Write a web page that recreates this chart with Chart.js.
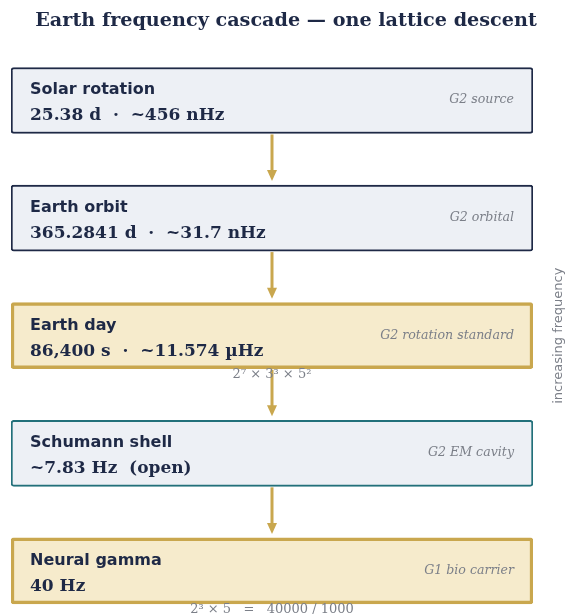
<!DOCTYPE html>
<html>
<head>
<meta charset="utf-8">
<script src="https://cdn.jsdelivr.net/npm/chart.js@4"></script>
<style>
  html, body { margin: 0; padding: 0; background: #ffffff; }
  #wrap { width: 566px; height: 614px; position: relative; }
</style>
</head>
<body>
<div id="wrap"><canvas id="cascade"></canvas></div>
<script>
// cascade steps, top to bottom
const stepNames = ["Solar rotation", "Earth orbit", "Earth day", "Schumann shell", "Neural gamma"];
const stepValues = ["25.38 d  \u00b7  ~456 nHz", "365.2841 d  \u00b7  ~31.7 nHz", "86,400 s  \u00b7  ~11.574 \u00b5Hz", "~7.83 Hz  (open)", "40 Hz"];
const stepRoles = ["G2 source", "G2 orbital", "G2 rotation standard", "G2 EM cavity", "G1 bio carrier"];
const stepKinds = ["plain", "plain", "anchor", "cavity", "anchor"];
const stepNotes = ["", "", "2\u2077 \u00d7 3\u00b3 \u00d7 5\u00b2", "", "2\u00b3 \u00d7 5   =   40000 / 1000"];
const stepIndex = [0, 1, 2, 3, 4];

const NAVY = "#1e2946";
const GOLD = "#c9a74e";
const GREY = "#7b7f88";
const fills = { plain: "#edf0f5", anchor: "#f6ebcc", cavity: "#edf0f5" };
const borders = { plain: NAVY, anchor: GOLD, cavity: "#22707a" };
const borderW = { plain: 2, anchor: 3.5, cavity: 2 };

const boxData = stepIndex.map(i => ({ x: [0, 1], y: i }));

const cascadeText = {
  id: "cascadeText",
  afterDatasetsDraw(chart) {
    const ctx = chart.ctx;
    const xs = chart.scales.x, ys = chart.scales.y;
    const left = xs.getPixelForValue(0), right = xs.getPixelForValue(1);
    const mid = (left + right) / 2;
    const meta = chart.getDatasetMeta(0);
    ctx.save();

    // arrows between boxes
    for (let i = 0; i < stepIndex.length - 1; i++) {
      const a = meta.data[i], b = meta.data[i + 1];
      const y0 = a.y + a.height / 2 + 1;
      const y1 = b.y - b.height / 2 - 4;
      ctx.strokeStyle = GOLD;
      ctx.fillStyle = GOLD;
      ctx.lineWidth = 3;
      ctx.beginPath();
      ctx.moveTo(mid, y0);
      ctx.lineTo(mid, y1 - 9);
      ctx.stroke();
      ctx.beginPath();
      ctx.moveTo(mid - 5, y1 - 11);
      ctx.lineTo(mid + 5, y1 - 11);
      ctx.lineTo(mid, y1);
      ctx.closePath();
      ctx.fill();
    }

    stepIndex.forEach(i => {
      const cy = ys.getPixelForValue(i);
      ctx.textBaseline = "alphabetic";
      ctx.textAlign = "left";
      ctx.fillStyle = NAVY;
      ctx.font = "bold 16px 'DejaVu Sans'";
      ctx.fillText(stepNames[i], left + 19, cy - 6);
      ctx.font = "bold 17px 'DejaVu Serif'";
      ctx.fillText(stepValues[i], left + 19, cy + 20);
      ctx.textAlign = "right";
      ctx.fillStyle = GREY;
      ctx.font = "italic 12.6px 'DejaVu Serif'";
      ctx.fillText(stepRoles[i], right - 19, cy + 3);
      if (stepNotes[i]) {
        const el = meta.data[i];
        ctx.textAlign = "center";
        ctx.font = "13px 'DejaVu Serif'";
        ctx.fillText(stepNotes[i], mid, el.y + el.height / 2 + 9);
      }
    });

    // title
    ctx.textAlign = "center";
    ctx.fillStyle = NAVY;
    ctx.font = "bold 19.2px 'DejaVu Serif'";
    ctx.fillText("Earth frequency cascade \u2014 one lattice descent", 286, 26);

    // side label
    ctx.translate(559, ys.getPixelForValue(2));
    ctx.rotate(-Math.PI / 2);
    ctx.fillStyle = GREY;
    ctx.font = "13px 'DejaVu Sans'";
    ctx.textBaseline = "middle";
    ctx.fillText("increasing frequency", 0, 0);
    ctx.restore();
  }
};

new Chart(document.getElementById("cascade"), {
  type: "bar",
  data: {
    datasets: [{
      data: boxData,
      backgroundColor: stepKinds.map(k => fills[k]),
      borderColor: stepKinds.map(k => borders[k]),
      borderWidth: stepKinds.map(k => borderW[k]),
      borderRadius: 3,
      borderSkipped: false,
      barThickness: 66
    }]
  },
  options: {
    indexAxis: "y",
    responsive: true,
    maintainAspectRatio: false,
    animation: false,
    layout: { padding: { top: 40, bottom: 0, left: 11, right: 33 } },
    scales: {
      x: { type: "linear", min: 0, max: 1, display: false, offset: false },
      y: { type: "linear", min: -0.514, max: 4.366, reverse: true, display: false, offset: false }
    },
    plugins: {
      legend: { display: false },
      tooltip: { enabled: false }
    }
  },
  plugins: [cascadeText]
});
</script>
</body>
</html>
